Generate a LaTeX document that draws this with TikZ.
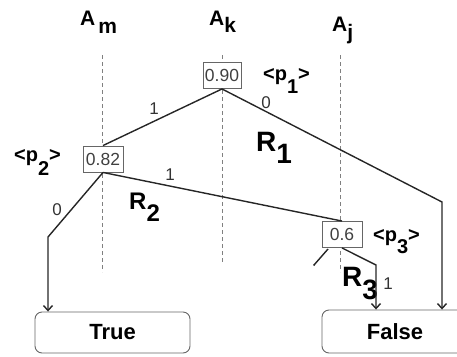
\documentclass[tikz,border=0pt]{standalone}
\usepackage{fontspec}
\setmainfont{Liberation Sans}
\usetikzlibrary{arrows.meta}
\begin{document}
\begin{tikzpicture}[x=1pt,y=-1pt,
 valbox/.style={draw=gray!80!black, fill=white, line width=0.9pt, inner sep=1pt, font=\fontsize{17.5}{17.5}\selectfont, text=black!75, minimum height=26pt},
 leaf/.style={draw=gray!80!black, fill=white, rounded corners=7pt, line width=0.9pt, font=\bfseries\fontsize{22}{22}\selectfont},
 edge/.style={draw=black!85, line width=1.4pt},
 arr/.style={edge, -{Straight Barb[length=5pt,width=9pt]}},
 guide/.style={draw=gray, dash pattern=on 4pt off 3pt, line width=0.8pt},
 attr/.style={font=\bfseries\fontsize{21}{21}\selectfont, anchor=base west, inner sep=0pt},
 blab/.style={font=\fontsize{17}{17}\selectfont, text=black!80, inner sep=0pt},
 rlab/.style={font=\bfseries\fontsize{28}{28}\selectfont, anchor=base west, inner sep=0pt},
 plab/.style={font=\bfseries\fontsize{20}{20}\selectfont, anchor=base west, inner sep=0pt}]
\clip (0,0) rectangle (457,356);
% guide lines
\coordinate (gm1) at (102,55); \coordinate (gm2) at (102,272);
\coordinate (gk1) at (222,55); \coordinate (gk2) at (222,262);
\coordinate (gj1) at (340,55); \coordinate (gj2) at (340,272);
\draw[guide] (gm1) -- (gm2);
\draw[guide] (gk1) -- (gk2);
\draw[guide] (gj1) -- (gj2);
% attribute labels
\node[attr] (am) at (80,25) {A\hspace{3pt}\raisebox{-8pt}{m}};
\node[attr] (ak) at (209,25) {A\raisebox{-7pt}{k}};
\node[attr] (aj) at (332,31) {A\raisebox{-8pt}{j}};
% value boxes
\node[valbox, minimum width=38pt] (b1) at (222,75.5) {0.90};
\node[valbox, minimum width=40pt] (b2) at (103,159) {0.82};
\node[valbox, minimum width=40pt] (b3) at (342,234.5) {0.6};
% leaves
\node[leaf, minimum width=155pt, minimum height=41pt] (T) at (112.5,332.5) {True};
\node[leaf, minimum width=146pt, minimum height=43pt] (F) at (395,331.5) {False};
% p labels
\node[plab] (p1) at (263,80) {<p\raisebox{-13pt}{1}>};
\node[plab] (p2) at (14,161) {<p\raisebox{-14pt}{2}>};
\node[plab] (p3) at (373,241) {<p\raisebox{-12pt}{3}>};
% R labels
\node[rlab] (r1) at (256,151) {R\raisebox{-12pt}{1}};
\node[rlab, font=\bfseries\fontsize{24}{24}\selectfont] (r2) at (129,209) {R\raisebox{-12pt}{2}};
\node[rlab] (r3) at (342,286) {R\raisebox{-13pt}{3}};
% edges
\coordinate (c1) at (442,202);
\coordinate (c2) at (48,237);
\coordinate (c3) at (376,265);
\coordinate (s1) at (328,249);
\coordinate (s2) at (314,265);
\draw[edge] (b1.south) -- (b2.north);
\draw[arr] (b1.south) -- (c1) -- (c1 |- F.north);
\draw[arr] (b2.south) -- (c2) -- (c2 |- T.north);
\draw[edge] (b2.south) -- (b3.north);
\draw[arr] (b3.south) -- (c3) -- (c3 |- F.north);
\draw[edge] (s1) -- (s2);
\fill[black!85] (s2) circle (1pt);
% branch labels
\node[blab] (l1) at (154,109) {1};
\node[blab] (l2) at (266,103) {0};
\node[blab] (l3) at (170,175) {1};
\node[blab] (l4) at (57,210) {0};
\node[blab] (l5) at (388,284) {1};
\end{tikzpicture}
\end{document}
